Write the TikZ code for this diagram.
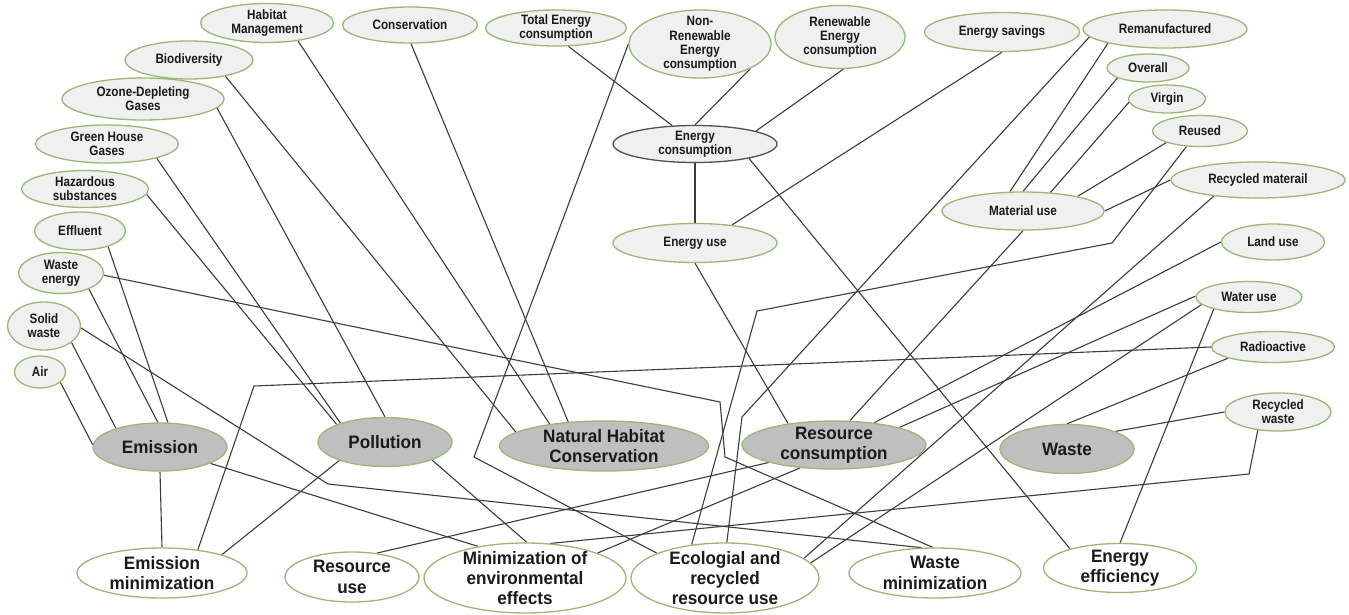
\documentclass[tikz,border=0pt]{standalone}
\usepackage{fontspec}
\newfontfamily\leaffont{Liberation Sans}[FakeStretch=0.86]
\newfontfamily\hubfont{Liberation Sans}[FakeStretch=0.95]
\usetikzlibrary{shapes.geometric,backgrounds}
\definecolor{rim}{HTML}{98B873}
\definecolor{leaffill}{HTML}{F0F0F0}
\definecolor{hubfill}{HTML}{BFBFBF}
\definecolor{wire}{HTML}{3C3C3C}
\definecolor{ink}{HTML}{1A1A1A}
\definecolor{darkrim}{HTML}{505050}
\begin{document}
\begin{tikzpicture}[x=1pt,y=-1pt,
  base/.style={ellipse, inner sep=-40pt, align=center, text=ink, line width=1.3pt},
  leaf/.style={base, draw=rim, fill=leaffill, font=\leaffont\bfseries\fontsize{13.6}{14.2}\selectfont},
  hub/.style={base, draw=rim, fill=hubfill, font=\hubfont\bfseries\fontsize{18}{20.3}\selectfont},
  goal/.style={base, draw=rim, fill=white, font=\hubfont\bfseries\fontsize{18}{20.3}\selectfont},
  conn/.style={draw=wire, line width=1.1pt},
  sz/.style 2 args={minimum width=#1pt, minimum height=#2pt}]
\useasboundingbox (0,0) rectangle (1349,615);

% outer indicators
\node[leaf, sz={133}{39}] (hab) at (267,23) {Habitat\\Management};
\node[leaf, sz={135}{36}] (cons) at (410,25) {Conservation};
\node[leaf, sz={141}{36}] (tot) at (556,28) {Total Energy\\consumption};
\node[leaf, sz={142}{68}] (nren) at (700,44) {Non-\\Renewable\\Energy\\consumption};
\node[leaf, sz={130}{63}] (ren) at (840,37) {Renewable\\Energy\\consumption};
\node[leaf, sz={155}{39}] (sav) at (1002,32) {Energy savings};
\node[leaf, sz={164}{38}] (rem) at (1165,29) {Remanufactured};
\node[leaf, sz={82}{28}] (ovr) at (1148,68) {Overall};
\node[leaf, sz={77}{28}] (vir) at (1167,99) {Virgin};
\node[leaf, sz={95}{31}] (reu) at (1200,131) {Reused};
\node[leaf, sz={174}{36}] (rmat) at (1258,180) {Recycled materail};
\node[leaf, sz={162}{38}] (mat) at (1023,211) {Material use};
\node[leaf, draw=darkrim, sz={164}{37}] (ecs) at (695,144) {Energy\\consumption};
\node[leaf, sz={164}{39}] (euse) at (695,243) {Energy use};
\node[leaf, sz={128}{38}] (bio) at (189,60) {Biodiversity};
\node[leaf, sz={162}{42}] (ozo) at (143,99) {Ozone-Depleting\\Gases};
\node[leaf, sz={143}{38}] (ghg) at (107,144) {Green House\\Gases};
\node[leaf, sz={127}{37}] (haz) at (85,189) {Hazardous\\substances};
\node[leaf, sz={91}{38}] (eff) at (80,231) {Effluent};
\node[leaf, sz={85}{41}] (wen) at (61,273) {Waste\\energy};
\node[leaf, sz={73}{48}] (sol) at (44,326) {Solid\\waste};
\node[leaf, sz={51}{32}] (air) at (40,372) {Air};
\node[leaf, sz={103}{36}] (land) at (1273,242) {Land use};
\node[leaf, sz={106}{31}] (wat) at (1249,297) {Water use};
\node[leaf, sz={123}{31}] (rad) at (1273,347) {Radioactive};
\node[leaf, sz={106}{38}] (rwas) at (1278,412) {Recycled\\waste};

% categories
\node[hub, sz={134}{48}] (emi) at (160,447) {Emission};
\node[hub, sz={134}{49}] (pol) at (385,442) {Pollution};
\node[hub, sz={209}{50}] (nhc) at (604,446) {Natural Habitat\\Conservation};
\node[hub, sz={184}{48}] (rcon) at (834,445) {Resource\\consumption};
\node[hub, sz={134}{49}] (was) at (1067,449) {Waste};

% goals
\node[goal, sz={170}{50}] (emin) at (162,573) {Emission\\minimization};
\node[goal, sz={134}{50}] (ruse) at (352,577) {Resource\\use};
\node[goal, sz={202}{70}] (mee) at (525,578) {Minimization of\\environmental\\effects};
\node[goal, sz={188}{70}] (eco) at (725,578) {Ecologial and\\recycled\\resource use};
\node[goal, sz={172}{50}] (wmin) at (935,573) {Waste\\minimization};
\node[goal, sz={153}{49}] (eeff) at (1120,568) {Energy\\efficiency};

% bend points of the routed links
\coordinate (kSol) at (328,484);
\coordinate (kWenA) at (720,402);
\coordinate (kWenB) at (725,457);
\coordinate (kRad) at (254,386);
\coordinate (kNren) at (474,457);
\coordinate (kReuA) at (1112,243);
\coordinate (kReuB) at (757,311);
\coordinate (kRem) at (742,417);
\coordinate (kRwas) at (1249,474);

\begin{pgfonlayer}{background}
\fill[white] (0,0) rectangle (1349,615);
\draw[conn] (air.-27) -- (emi.178);
\draw[conn] (sol.-31) -- (emi.157);
\draw[conn] (wen.-30) -- (emi.95);
\draw[conn] (eff.-29) -- (emi.72);
\draw[conn] (sol.-3) -- (kSol) -- (wmin.118);
\draw[conn] (wen.-3) -- (kWenA) -- (kWenB) -- (wmin.95);
\draw[conn] (emi.-90) -- (emin.90);
\draw[conn] (emi.-18) -- (mee.146);
\draw[conn] (pol.202) -- (emin.17);
\draw[conn] (pol.-21) -- (mee.87);
\draw[conn] (rad.180) -- (kRad) -- (emin.33);
\draw[conn] (haz.-5) -- (pol.160);
\draw[conn] (ghg.-16) -- (pol.157);
\draw[conn] (ozo.-7) -- (pol.90);
\draw[conn] (bio.-24) -- (nhc.171);
\draw[conn] (hab.-30) -- (nhc.158);
\draw[conn] (cons.-87) -- (nhc.146);
\draw[conn] (tot.-56) -- (ecs.141);
\draw[conn] (nren.-26) -- (ecs.90);
\draw[conn] (ren.-84) -- (ecs.12);
\draw[conn] (ecs.-90) -- (euse.90);
\draw[conn] (ecs.-15) -- (eeff.159);
\draw[conn] (euse.26) -- (sav.-90);
\draw[conn] (euse.-90) -- (rcon.155);
\draw[conn] (nren.180) -- (kNren) -- (eco.160);
\draw[conn] (reu.229) -- (kReuA) -- (kReuB) -- (eco.135);
\draw[conn] (rem.186) -- (kRem) -- (eco.87);
\draw[conn] (rem.194) -- (mat.124);
\draw[conn] (ovr.198) -- (mat.90);
\draw[conn] (vir.185) -- (mat.34);
\draw[conn] (reu.199) -- (mat.15);
\draw[conn] (rmat.180) -- (mat.0);
\draw[conn] (mat.-90) -- (rcon.57);
\draw[conn] (rmat.200) -- (eco.14);
\draw[conn] (land.180) -- (rcon.29);
\draw[conn] (wat.179) -- (rcon.15);
\draw[conn] (wat.189) -- (eco.10);
\draw[conn] (wat.199) -- (eeff.90);
\draw[conn] (rad.194) -- (was.90);
\draw[conn] (rwas.180) -- (was.20);
\draw[conn] (rwas.222) -- (kRwas) -- (mee.54);
\draw[conn] (ruse.44) -- (rcon.195);
\draw[conn] (mee.19) -- (rcon.214);
\end{pgfonlayer}
\end{tikzpicture}
\end{document}
